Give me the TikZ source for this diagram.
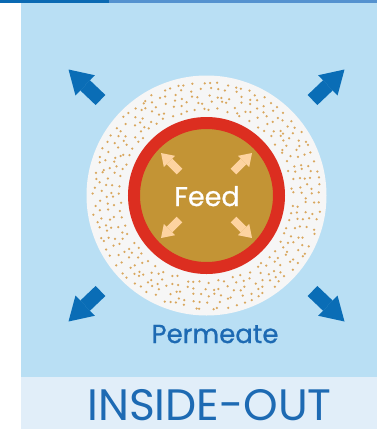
\documentclass[tikz,border=0pt]{standalone}
\usepackage{fontspec}
\newfontfamily\labelfont{Poppins}[FakeBold=0.8]
\newfontfamily\titlefont{Poppins}
\usetikzlibrary{arrows.meta}

\definecolor{panelblue}{HTML}{B9DFF4}
\definecolor{bandblue}{HTML}{E1EEF9}
\definecolor{bardark}{HTML}{0B6AB3}
\definecolor{barlight}{HTML}{5592CF}
\definecolor{arrowblue}{HTML}{0A6DB6}
\definecolor{shellwhite}{HTML}{F6F6F6}
\definecolor{dotgold}{HTML}{D9A75E}
\definecolor{ringred}{HTML}{DC2E20}
\definecolor{feedbrown}{HTML}{C39435}
\definecolor{peach}{HTML}{FDD3A0}
\definecolor{textblue}{HTML}{1D6AB3}

\begin{document}
\begin{tikzpicture}[
  x=1pt, y=-1pt,
  line cap=butt,
  bigarrow/.style={-{Triangle[length=23pt,width=28pt,line width=0pt]}, line width=14pt, draw=arrowblue, fill=arrowblue},
  smallarrow/.style={-{Triangle[length=12pt,width=16pt,line width=0pt]}, line width=8pt, draw=peach, fill=peach},
  grain/.style={fill=dotgold},
  txt/.style={inner sep=0pt, anchor=base, text depth=0pt, font=\labelfont}
]
\useasboundingbox (0,0) rectangle (377,429);

\def\rShell{120}
\def\rRing{72.5}

% Background panels and top bar.
\fill[panelblue] (21,3) rectangle (377,377);
\fill[bandblue] (21,377) rectangle (377,429);
\fill[barlight] (109,0) rectangle (377,3);
\fill[bardark] (0,0) rectangle (109,3);

\coordinate (c) at (206.5,195.5);

% Permeate shell with scattered grains.
\fill[shellwhite] (c) circle (\rShell);
\pgfmathsetseed{11}
\foreach \r in {87,93.5,100,106.5,113}{
  \pgfmathtruncatemacro\n{2*pi*\r/8.2}
  \pgfmathsetmacro\dang{360/\n}
  \foreach \k in {1,...,\n}{
    \pgfmathsetmacro\ang{\dang*(\k+0.4*rand)}
    \pgfmathsetmacro\rad{\r+1.8*rand}
    \fill[grain] (c) ++(\ang:\rad) circle (1.25);
  }
}

% Membrane and feed channel.
\filldraw[fill=feedbrown, draw=ringred, line width=12pt] (c) circle (\rRing);

% Outward flow arrows.
\foreach \sx/\sy in {-1/-1, 1/-1, -1/1, 1/1}{
  \draw[bigarrow] ([shift={(\sx*106,\sy*95.5)}]c) -- ([shift={(\sx*138,\sy*126)}]c);
  \draw[smallarrow] ([shift={(\sx*27,\sy*24)}]c) -- ([shift={(\sx*45.5,\sy*42.5)}]c);
}

% Labels.
\node[txt, text=white, font=\labelfont\fontsize{27}{30}\selectfont] (feed) at (207,206) {Feed};
\node[txt, text=textblue, font=\labelfont\fontsize{26}{30}\selectfont] (permeate) at (215,343) {Permeate};
\node[txt, text=textblue, font=\titlefont\fontsize{44}{48}\selectfont] (mode) at (209.5,420) {INSIDE-OUT};

\end{tikzpicture}
\end{document}
